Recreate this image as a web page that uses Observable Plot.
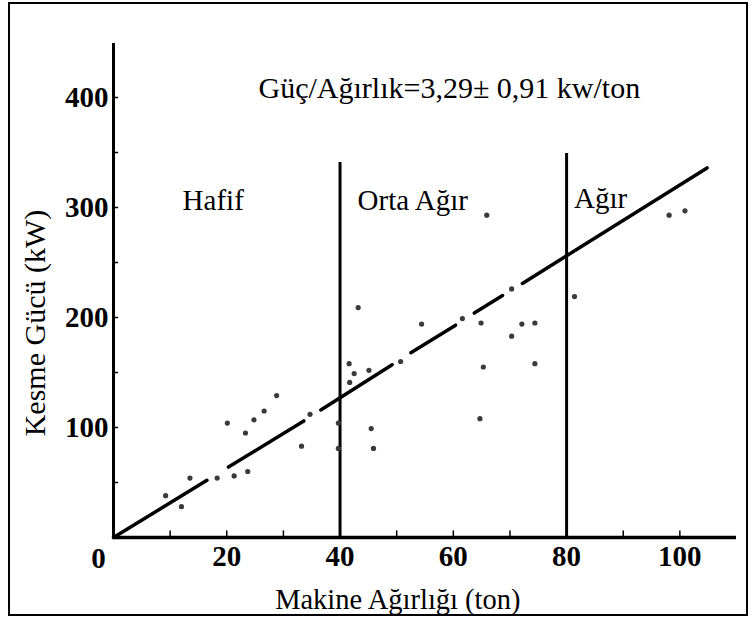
<!DOCTYPE html>
<html>
<head>
<meta charset="utf-8">
<script src="https://cdn.jsdelivr.net/npm/d3@7"></script>
<script src="https://cdn.jsdelivr.net/npm/@observablehq/plot@0.6"></script>
<style>
  html, body { margin: 0; padding: 0; background: #fff; }
  #wrap { position: relative; width: 753px; height: 619px; overflow: hidden; }
  #frame { position: absolute; left: 8px; top: 2px; width: 740px; height: 614px; border: 2px solid #000; box-sizing: border-box; pointer-events: none; }
</style>
</head>
<body>
<div id="wrap"><div id="frame"></div></div>
<script>
// Data points: machine weight (ton) and cutting power (kW)
const weights = [9.2, 12.0, 13.5, 18.3, 20.1, 21.3, 23.3, 23.7, 24.8, 26.6, 28.8, 33.2, 34.7,
  39.7, 39.7, 41.6, 42.5, 41.7, 43.2, 45.1, 45.5, 45.9, 50.7, 54.4, 61.6, 64.9, 65.3, 64.7,
  65.9, 70.3, 70.3, 72.1, 74.4, 74.4, 81.4, 98.1, 100.9];
const powers = [38, 28, 54, 54, 104, 56, 95, 60, 107, 115, 129, 83, 112,
  104, 81, 158, 149, 141, 209, 152, 99, 81, 160, 194, 199, 195, 155, 108,
  293, 226, 183, 194, 195, 158, 219, 293, 297];

// Fitted line (drawn broken, as in the scanned figure)
const segX1 = [0, 20.3, 36.6, 52.5, 63.7, 72.2];
const segY1 = [0, 64, 116, 168, 204, 231];
const segX2 = [16.5, 33.6, 49.2, 60.4, 68.7, 104.8];
const segY2 = [52, 106, 157, 193, 220, 336];

// Class boundaries
const boundaries = [40, 80];
const boundaryTops = [341, 349];

// Class labels
const classNames = ["Hafif", "Orta Ağır", "Ağır"];
const classX = [12.2, 43.1, 81.3];
const classY = [306, 306, 308];

// Ticks
const xMinorTicks = [10, 20, 30, 40, 50, 60, 70, 80, 90, 100];
const xTickLabels = [20, 40, 60, 80, 100];
const yMinorTicks = [50, 100, 150, 200, 250, 300, 350, 400];
const yTickLabels = [100, 200, 300, 400];

const title = "Güç/Ağırlık=3,29± 0,91 kw/ton";
const xTitle = "Makine Ağırlığı (ton)";
const yTitle = "Kesme Gücü (kW)";

const serif = "'Liberation Serif', 'Times New Roman', Times, Tinos, 'Noto Serif', 'DejaVu Serif', FreeSerif, serif";

const points = weights.map((w, i) => ({w, p: powers[i]}));
const segs = segX1.map((x, i) => ({x1: x, y1: segY1[i], x2: segX2[i], y2: segY2[i]}));
const bounds = boundaries.map((b, i) => ({b, top: boundaryTops[i]}));
const classes = classNames.map((n, i) => ({n, x: classX[i], y: classY[i]}));

const chart = Plot.plot({
  width: 753,
  height: 619,
  marginLeft: 113,
  marginRight: 17,
  marginTop: 42,
  marginBottom: 82,
  x: {domain: [0, 110]},
  y: {domain: [0, 450]},
  style: {fontFamily: serif, background: "transparent", color: "#000", overflow: "visible"},
  marks: [
    // axes lines
    Plot.ruleX([0], {y1: 0, y2: 449, stroke: "#000", strokeWidth: 3}),
    Plot.ruleY([0], {x1: 0, x2: 110, stroke: "#000", strokeWidth: 3.5}),
    // inward ticks
    Plot.ruleX(xMinorTicks, {x: d => d, y1: 0, y2: 6, stroke: "#000", strokeWidth: 1.5}),
    Plot.ruleY(yMinorTicks, {y: d => d, x1: 0, x2: 0.9, stroke: "#000", strokeWidth: 1.5}),
    // tick labels
    Plot.axisX({ticks: xTickLabels, tickSize: 0, tickPadding: 8, fontSize: 29, fontWeight: "bold", fontFamily: serif, label: null}),
    Plot.axisY({ticks: yTickLabels, tickSize: 0, tickPadding: 5, fontSize: 29, fontWeight: "bold", fontFamily: serif, label: null}),
    Plot.text(["0"], {x: 0, y: 0, text: d => d, dx: -15, dy: 21, fontSize: 29, fontWeight: "bold", fontFamily: serif, fill: "#000"}),
    // boundaries
    Plot.ruleX(bounds, {x: "b", y1: 0, y2: "top", stroke: "#000", strokeWidth: 3}),
    // fitted line
    Plot.link(segs, {x1: "x1", y1: "y1", x2: "x2", y2: "y2", stroke: "#000", strokeWidth: 3.5, strokeLinecap: "round"}),
    // data points
    Plot.dot(points, {x: "w", y: "p", r: 2.6, fill: "#3a3a3a", stroke: "none"}),
    // class labels
    Plot.text(classes, {x: "x", y: "y", text: "n", textAnchor: "start", fontSize: 29, fontFamily: serif, fill: "#000"}),
    // title
    Plot.text([title], {x: 25.6, y: 408, text: d => d, textAnchor: "start", fontSize: 30, fontFamily: serif, fill: "#000"}),
    // axis titles
    Plot.text([xTitle], {x: 50.2, y: 0, text: d => d, dy: 62, fontSize: 28.5, fontFamily: serif, fill: "#000"}),
    Plot.text([yTitle], {x: 0, y: 195, text: d => d, dx: -78, rotate: -90, fontSize: 30, fontFamily: serif, fill: "#000"})
  ]
});
document.getElementById("wrap").prepend(chart);
</script>
</body>
</html>
